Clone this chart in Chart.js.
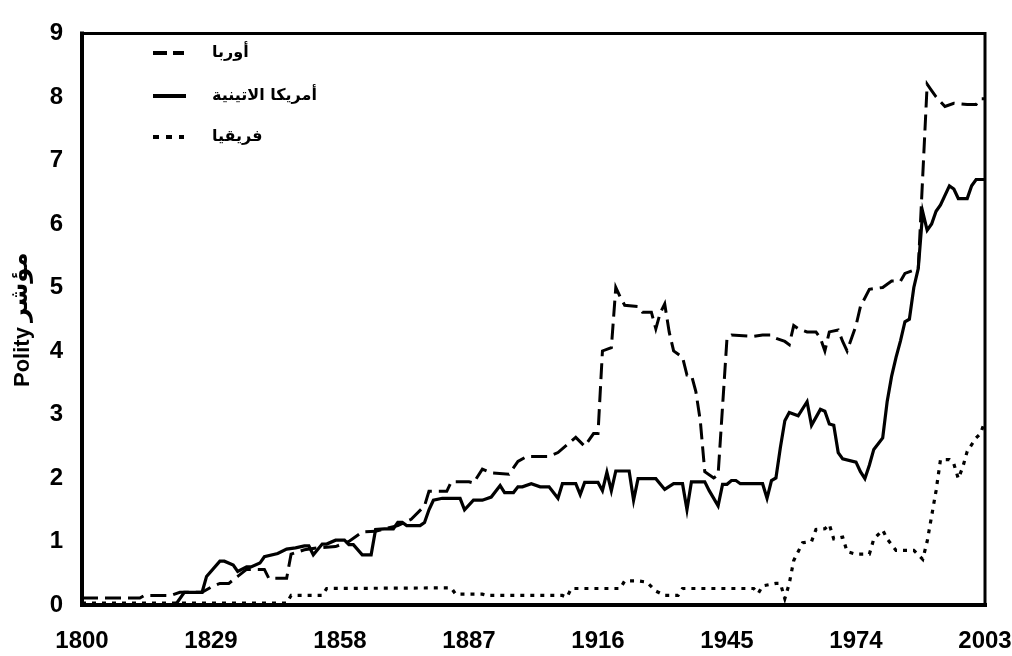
<!DOCTYPE html>
<html>
<head>
<meta charset="utf-8">
<script src="https://cdn.jsdelivr.net/npm/chart.js@4/dist/chart.umd.min.js"></script>
<style>
  html, body { margin: 0; padding: 0; background: #fff; }
  #wrap { width: 1012px; height: 656px; position: relative; }
</style>
</head>
<body>
<div id="wrap"><canvas id="c" width="1012" height="656"></canvas></div>
<script>
// ---- Data ----
const xTickYears = [1800, 1829, 1858, 1887, 1916, 1945, 1974, 2003];
const yTickValues = [0, 1, 2, 3, 4, 5, 6, 7, 8, 9];

const seriesNames = ['أوربا', 'أمريكا الاتينية', 'فريقيا'];
const yTitleLatin = 'Polity';
const yTitleArabic = 'مؤشر';

const europeYears = [1800,1813,1814,1820,1822,1827,1829,1831,1833,1835,1837,1841,1842,1846,1847,1850,1853,1857,1860,1863,1866,1868,1871,1874,1877,1878,1882,1883,1887,1888,1890,1892,1896,1898,1900,1905,1907,1909,1911,1913,1915,1916,1917,1919,1920,1921,1922,1925,1926,1928,1929,1930,1931,1932,1933,1935,1936,1937,1938,1939,1940,1942,1943,1945,1946,1951,1953,1955,1956,1958,1959,1960,1961,1963,1965,1966,1967,1968,1970,1971,1972,1974,1975,1977,1980,1982,1984,1985,1988,1990,1991,1992,1994,1996,1999,2001,2002,2003];
const europeValues = [0.11,0.11,0.15,0.15,0.2,0.2,0.28,0.34,0.34,0.45,0.56,0.56,0.42,0.42,0.8,0.87,0.9,0.92,1.0,1.15,1.16,1.2,1.25,1.35,1.56,1.79,1.79,1.94,1.94,1.92,2.14,2.08,2.06,2.26,2.34,2.34,2.4,2.52,2.64,2.5,2.7,2.7,4.0,4.05,5.0,4.85,4.72,4.7,4.61,4.61,4.35,4.6,4.74,4.3,4.0,3.9,3.62,3.62,3.36,2.9,2.1,2.0,2.05,4.2,4.25,4.23,4.25,4.25,4.2,4.15,4.1,4.4,4.35,4.3,4.3,4.2,4.0,4.3,4.33,4.15,4.0,4.4,4.7,4.97,5.0,5.1,5.1,5.22,5.3,8.2,8.1,8.0,7.85,7.9,7.88,7.88,7.97,7.97];

const latamYears = [1800,1821,1823,1827,1828,1831,1832,1834,1835,1837,1838,1840,1841,1844,1846,1848,1850,1851,1852,1854,1855,1857,1859,1860,1861,1863,1865,1866,1868,1870,1871,1872,1873,1876,1877,1878,1879,1881,1885,1886,1888,1890,1892,1894,1895,1897,1898,1899,1901,1903,1905,1907,1908,1911,1912,1913,1916,1917,1918,1919,1920,1923,1924,1925,1929,1931,1933,1935,1936,1937,1940,1941,1943,1944,1945,1946,1947,1948,1953,1954,1955,1956,1957,1958,1959,1961,1963,1964,1966,1967,1968,1969,1970,1971,1974,1975,1976,1977,1978,1980,1981,1982,1983,1984,1985,1986,1987,1988,1989,1990,1991,1992,1993,1995,1996,1997,1999,2000,2001,2003];
const latamValues = [0,0,0.2,0.2,0.45,0.69,0.69,0.63,0.53,0.6,0.6,0.66,0.76,0.81,0.88,0.9,0.93,0.93,0.79,0.96,0.96,1.02,1.02,0.95,0.95,0.79,0.79,1.19,1.2,1.2,1.3,1.3,1.25,1.25,1.3,1.5,1.65,1.68,1.68,1.5,1.65,1.65,1.7,1.88,1.77,1.77,1.86,1.86,1.91,1.86,1.86,1.68,1.91,1.91,1.74,1.93,1.93,1.8,2.09,1.8,2.11,2.11,1.65,1.99,1.99,1.82,1.91,1.91,1.5,1.94,1.94,1.8,1.56,1.9,1.9,1.96,1.96,1.91,1.91,1.68,1.96,2.0,2.48,2.9,3.03,2.98,3.2,2.83,3.08,3.05,2.85,2.83,2.4,2.3,2.25,2.1,1.99,2.2,2.45,2.63,3.2,3.6,3.9,4.16,4.46,4.5,5.0,5.3,6.19,5.9,6.0,6.2,6.3,6.6,6.55,6.4,6.4,6.6,6.7,6.7];

const africaYears = [1800,1846,1847,1854,1855,1883,1884,1890,1891,1908,1909,1910,1921,1922,1925,1927,1929,1931,1934,1935,1951,1952,1953,1956,1957,1958,1959,1960,1962,1964,1965,1967,1968,1969,1971,1972,1974,1977,1978,1980,1981,1983,1987,1989,1990,1991,1992,1993,1995,1996,1997,1998,1999,2001,2002,2003];
const africaValues = [0.03,0.03,0.15,0.15,0.26,0.27,0.17,0.17,0.15,0.15,0.12,0.26,0.26,0.38,0.38,0.36,0.22,0.15,0.15,0.26,0.26,0.18,0.3,0.34,0.34,0.1,0.34,0.7,0.98,1.0,1.19,1.2,1.27,1.04,1.07,0.84,0.8,0.8,1.04,1.18,1.04,0.86,0.86,0.72,1.0,1.4,1.8,2.29,2.29,2.22,1.99,2.17,2.42,2.63,2.7,2.9];

function pairs(xs, ys) { return xs.map((x, i) => ({ x: x, y: ys[i] })); }

const FONT = '"Liberation Sans", Arial, "DejaVu Sans", sans-serif';
const AR_FONT = '"DejaVu Sans", sans-serif';

const framePlugin = {
  id: 'frame',
  afterDatasetsDraw(chart) {
    const { ctx, chartArea: a } = chart;
    ctx.save();
    ctx.strokeStyle = '#000';
    ctx.lineCap = 'square';
    ctx.setLineDash([]);
    ctx.lineWidth = 3;
    ctx.beginPath();
    ctx.moveTo(a.left, a.top); ctx.lineTo(a.right, a.top); ctx.lineTo(a.right, a.bottom);
    ctx.stroke();
    ctx.lineWidth = 4;
    ctx.beginPath();
    ctx.moveTo(a.left, a.top); ctx.lineTo(a.left, a.bottom); ctx.lineTo(a.right, a.bottom);
    ctx.stroke();
    ctx.restore();
  }
};

// y-axis title: Latin and Arabic parts, rotated, reading bottom-to-top
const yTitlePlugin = {
  id: 'yTitle',
  afterDraw(chart) {
    const { ctx } = chart;
    ctx.save();
    ctx.translate(23, 387);
    ctx.rotate(-Math.PI / 2);
    ctx.fillStyle = '#000';
    ctx.textBaseline = 'middle';
    ctx.textAlign = 'left';
    ctx.font = 'bold 22px ' + FONT;
    ctx.fillText(yTitleLatin, 0, 0);
    const w = ctx.measureText(yTitleLatin).width;
    ctx.font = 'bold 20px ' + AR_FONT;
    const aw = ctx.measureText(yTitleArabic).width;
    const size = Math.max(14, Math.min(40, 20 * 70 / aw));
    ctx.font = 'bold ' + size.toFixed(1) + 'px ' + AR_FONT;
    ctx.fillText(yTitleArabic, w + 5, -2);
    ctx.restore();
  }
};

const legendPlugin = {
  id: 'insideLegend',
  afterDraw(chart) {
    const { ctx } = chart;
    const rows = [53, 96, 137];
    ctx.save();
    chart.data.datasets.forEach((ds, i) => {
      const y = rows[i];
      ctx.strokeStyle = '#000';
      ctx.lineWidth = 4;
      ctx.lineCap = 'butt';
      ctx.setLineDash(ds.legendDash || []);
      ctx.beginPath();
      ctx.moveTo(153, y);
      ctx.lineTo(i === 1 ? 186 : 184, y);
      ctx.stroke();
      ctx.setLineDash([]);
      ctx.fillStyle = '#000';
      ctx.font = 'bold 16px ' + AR_FONT;
      ctx.textAlign = 'left';
      ctx.textBaseline = 'middle';
      ctx.fillText(ds.label, 212, y);
    });
    ctx.restore();
  }
};

new Chart(document.getElementById('c'), {
  type: 'line',
  data: {
    datasets: [
      { label: seriesNames[0], data: pairs(europeYears, europeValues), borderColor: '#000', borderWidth: 3, borderDash: [16, 7], legendDash: [14, 6], pointRadius: 0, tension: 0, fill: false },
      { label: seriesNames[1], data: pairs(latamYears, latamValues), borderColor: '#000', borderWidth: 3.2, borderDash: [], legendDash: [], pointRadius: 0, tension: 0, fill: false },
      { label: seriesNames[2], data: pairs(africaYears, africaValues), borderColor: '#000', borderWidth: 3.2, borderDash: [4, 6], legendDash: [6, 7], pointRadius: 0, tension: 0, fill: false }
    ]
  },
  options: {
    responsive: false,
    animation: false,
    devicePixelRatio: 1,
    layout: { padding: { top: 16, right: 20, left: 0, bottom: 0 } },
    plugins: { legend: { display: false }, tooltip: { enabled: false } },
    scales: {
      x: {
        type: 'linear',
        min: xTickYears[0],
        max: xTickYears[xTickYears.length - 1],
        afterBuildTicks(scale) { scale.ticks = xTickYears.map(v => ({ value: v })); },
        afterFit(scale) { scale.height = 51; scale.paddingRight = 27; },
        grid: { display: false, drawTicks: false },
        border: { display: false },
        ticks: {
          padding: 22,
          maxRotation: 0,
          autoSkip: false,
          color: '#000',
          font: { family: FONT, size: 24, weight: 'bold' },
          callback: v => String(v)
        }
      },
      y: {
        min: 0,
        max: 9,
        afterBuildTicks(scale) { scale.ticks = yTickValues.map(v => ({ value: v })); },
        afterFit(scale) { scale.width = 82; },
        grid: { display: false, drawTicks: false },
        border: { display: false },
        ticks: {
          padding: 19,
          color: '#000',
          font: { family: FONT, size: 24, weight: 'bold' },
          callback: v => String(v)
        },
        title: { display: false }
      }
    }
  },
  plugins: [framePlugin, yTitlePlugin, legendPlugin]
});
</script>
</body>
</html>
